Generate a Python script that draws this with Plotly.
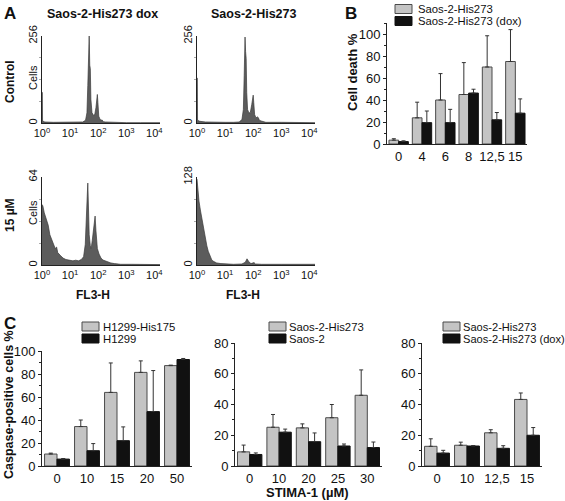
import plotly.graph_objects as go

W, H = 565, 501
FONT = "Arial, 'Liberation Sans', Helvetica, sans-serif"

# ---------------- Panel A: DNA content histograms (FL3-H, log decades) ----------------
tl_x = [0.0, 0.012, 0.02, 0.1, 0.4, 0.8, 1.2, 1.45, 1.55, 1.60, 1.63, 1.66, 1.68, 1.70, 1.72, 1.74,
        1.78, 1.84, 1.88, 1.92, 1.95, 1.97, 1.99, 2.02, 2.06, 2.10, 2.14, 2.18, 2.25, 2.5, 3.0, 3.5, 4.0, 4.2]
tl_y = [90, 90, 6, 3, 2, 2, 2, 3, 8, 30, 110, 200, 256, 170, 160, 70,
        30, 22, 26, 45, 70, 84, 60, 20, 12, 8, 9, 4, 3, 2, 1, 1, 1, 1]

tr_x = [0.0, 0.012, 0.02, 0.1, 0.3, 0.6, 1.0, 1.3, 1.5, 1.6, 1.65, 1.68, 1.71, 1.73, 1.75, 1.77,
        1.80, 1.85, 1.90, 1.95, 1.98, 2.00, 2.02, 2.05, 2.10, 2.15, 2.18, 2.22, 2.28, 2.35, 2.45, 3.0, 3.5, 4.0, 4.2]
tr_y = [132, 132, 8, 5, 3, 2, 2, 2, 3, 10, 40, 140, 253, 210, 190, 90,
        40, 29, 32, 55, 75, 82, 60, 25, 15, 18, 16, 8, 6, 5, 2, 2, 1, 1, 1]

bl_x = [0.0, 0.03, 0.08, 0.15, 0.22, 0.28, 0.36, 0.42, 0.47, 0.52, 0.56, 0.65, 0.75, 0.85, 0.95, 1.1,
        1.2, 1.3, 1.4, 1.48, 1.54, 1.58, 1.61, 1.63, 1.65, 1.68, 1.72, 1.75, 1.79, 1.84, 1.89, 1.92,
        1.97, 2.03, 2.1, 2.17, 2.3, 2.45, 2.58, 2.8, 3.2, 4.0, 4.2]
bl_y = [44, 43, 38, 33, 29, 22, 17.5, 14, 12, 13, 9, 7, 5, 4, 3.5, 3,
        3.5, 3, 4, 6, 15, 30, 50, 59.6, 40, 22, 14, 12, 18, 28, 35.6, 25,
        12, 8, 5, 3.6, 2.5, 1.5, 1, 0.5, 0.5, 0.3, 0.3]

br_x = [0.0, 0.03, 0.07, 0.12, 0.17, 0.23, 0.29, 0.35, 0.4, 0.47, 0.53, 0.6, 0.7, 0.85, 1.0, 1.3,
        1.6, 1.72, 1.78, 1.84, 1.92, 1.98, 2.03, 2.08, 2.3, 3.0, 4.0, 4.2]
br_y = [125, 110, 93, 80, 68, 52, 39, 28, 20, 12, 7, 5, 3, 2, 1.5, 1,
        1.5, 4, 9, 5, 2, 3, 3.5, 1.5, 1, 1, 1, 1]

hist_decades = [0, 1, 2, 3, 4]
hist_labels = ["10<sup>0</sup>", "10<sup>1</sup>", "10<sup>2</sup>", "10<sup>3</sup>", "10<sup>4</sup>"]

# ---------------- Panel B ----------------
b_cats = ["0", "4", "6", "8", "12,5", "15"]
b_his273 = [3.5, 23.8, 40, 45, 70, 75]
b_his273_err = [1.3, 14.2, 24, 29, 28.4, 29]
b_dox = [2.2, 19.4, 19.4, 46.3, 22, 28]
b_dox_err = [0.7, 10.6, 12.1, 3.5, 6.6, 13]
b_names = ["Saos-2-His273", "Saos-2-His273 (dox)"]

# ---------------- Panel C ----------------
c1_cats = ["0", "10", "15", "20", "50"]
c1_his175 = [10.4, 34.3, 64, 81.4, 87.3]
c1_his175_err = [0.8, 5.7, 25.6, 10, 0.4]
c1_h1299 = [6, 13.3, 22, 47.3, 92.6]
c1_h1299_err = [0.5, 6.2, 12, 35.7, 0.9]
c1_names = ["H1299-His175", "H1299"]

c2_cats = ["0", "10", "20", "25", "30"]
c2_his273 = [9.2, 25.2, 24.8, 31.4, 46]
c2_his273_err = [4.4, 8.3, 2.6, 8.6, 16.5]
c2_saos2 = [7.5, 22, 15.8, 13, 12]
c2_saos2_err = [1, 2, 5.7, 1.3, 3.6]
c2_names = ["Saos-2-His273", "Saos-2"]

c3_cats = ["0", "10", "12,5", "15"]
c3_his273 = [12.8, 13.5, 21.6, 43.3]
c3_his273_err = [4.9, 2, 2, 4.2]
c3_dox = [8.4, 13, 11.5, 20]
c3_dox_err = [1.8, 0.3, 1.7, 5]
c3_names = ["Saos-2-His273", "Saos-2-His273 (dox)"]


def dom_x(a, b):
    return [a / W, b / W]


def dom_y(top, bottom):
    return [1 - bottom / H, 1 - top / H]


fig = go.Figure()

GRAY = "#c4c4c4"
GRAY_LINE = "#4a4a4a"
BLACK = "#111111"

for hx, hy, xa, ya in [(tl_x, tl_y, "x", "y"), (tr_x, tr_y, "x2", "y2"),
                       (bl_x, bl_y, "x3", "y3"), (br_x, br_y, "x4", "y4")]:
    fig.add_trace(go.Scatter(x=hx, y=hy, mode="lines", fill="tozeroy",
                             fillcolor="#5c5c5c", line=dict(color="#3a3a3a", width=0.7),
                             xaxis=xa, yaxis=ya, showlegend=False, hoverinfo="skip"))


def add_pair(cats, v1, e1, v2, e2, names, xa, ya):
    for vals, errs, name, col, lcol in [(v1, e1, names[0], GRAY, GRAY_LINE), (v2, e2, names[1], BLACK, BLACK)]:
        fig.add_trace(go.Bar(
            x=cats, y=vals, name=name, xaxis=xa, yaxis=ya, showlegend=False,
            marker=dict(color=col, line=dict(color=lcol, width=1)),
            error_y=dict(type="data", array=errs, arrayminus=[0] * len(errs), symmetric=False,
                         color="#333333", thickness=1, width=2),
        ))


add_pair(b_cats, b_his273, b_his273_err, b_dox, b_dox_err, b_names, "x5", "y5")
add_pair(c1_cats, c1_his175, c1_his175_err, c1_h1299, c1_h1299_err, c1_names, "x6", "y6")
add_pair(c2_cats, c2_his273, c2_his273_err, c2_saos2, c2_saos2_err, c2_names, "x7", "y7")
add_pair(c3_cats, c3_his273, c3_his273_err, c3_dox, c3_dox_err, c3_names, "x8", "y8")

AX = "#222222"


def hist_x(domain, anchor):
    return dict(domain=domain, anchor=anchor, range=[0, 4.2], showline=True, linecolor=AX, linewidth=1,
                tickvals=hist_decades, ticktext=hist_labels, ticks="",
                tickfont=dict(size=11, color="#111111"), showgrid=False, zeroline=False)


def hist_y(domain, anchor, ymax):
    return dict(domain=domain, anchor=anchor, range=[0, ymax], showline=True, linecolor=AX, linewidth=1,
                tickvals=[0, ymax], ticktext=["0", str(ymax)], tickangle=-90, ticks="",
                tickfont=dict(size=11, color="#111111"), showgrid=False, zeroline=False,
                minor=dict(tickvals=[ymax / 4, ymax / 2, 3 * ymax / 4], ticks="outside", ticklen=2,
                           tickcolor="#aaaaaa"))


def bar_x(domain, anchor):
    return dict(domain=domain, anchor=anchor, type="category", showline=True, linecolor=AX, linewidth=1,
                ticks="", tickfont=dict(size=13, color="#111111"), showgrid=False, zeroline=False)


def bar_y(domain, anchor, ymax):
    return dict(domain=domain, anchor=anchor, range=[0, ymax], dtick=20, showline=True, linecolor=AX,
                linewidth=1, ticks="outside", ticklen=3, tickcolor=AX,
                tickfont=dict(size=13, color="#111111"),
                showgrid=False, zeroline=False,
                minor=dict(dtick=10, ticks="outside", ticklen=2, tickcolor=AX))


row_top = dom_y(36, 123)
row_bot = dom_y(177, 265)

fig.update_layout(
    width=W, height=501, autosize=False, template="none",
    margin=dict(l=0, r=0, t=0, b=0),
    paper_bgcolor="white", plot_bgcolor="white",
    font=dict(family=FONT, size=12, color="#111111"),
    barmode="group", bargap=0.17, bargroupgap=0, showlegend=False,
    xaxis=hist_x(dom_x(42, 160), "y"), yaxis=hist_y(row_top, "x", 256),
    xaxis2=hist_x(dom_x(197, 315), "y2"), yaxis2=hist_y(row_top, "x2", 256),
    xaxis3=hist_x(dom_x(42, 160), "y3"), yaxis3=hist_y(row_bot, "x3", 64),
    xaxis4=hist_x(dom_x(197, 315), "y4"), yaxis4=hist_y(row_bot, "x4", 128),
    xaxis5=bar_x(dom_x(387, 527), "y5"), yaxis5=bar_y(dom_y(23, 144), "x5", 110),
    xaxis6=bar_x(dom_x(42, 192), "y6"), yaxis6=bar_y(dom_y(351, 466), "x6", 100),
    xaxis7=bar_x(dom_x(235, 382), "y7"), yaxis7=bar_y(dom_y(343, 466), "x7", 80),
    xaxis8=bar_x(dom_x(422, 542), "y8"), yaxis8=bar_y(dom_y(343, 466), "x8", 80),
)


def ann(text, x, y, size=12, bold=True, angle=0, xanchor="center"):
    fig.add_annotation(text=text, x=x / W, y=1 - y / H, xref="paper", yref="paper",
                       showarrow=False, textangle=angle, xanchor=xanchor, yanchor="middle",
                       font=dict(size=size, weight="bold" if bold else "normal", family=FONT,
                                 color="#111111"))


# legends (drawn as key boxes + labels)
def legend(names, box_x, text_x, y1, y2, size=11.3):
    for name, col, lcol, yc in [(names[0], GRAY, GRAY_LINE, y1), (names[1], BLACK, BLACK, y2)]:
        fig.add_shape(type="rect", xref="paper", yref="paper",
                      x0=box_x / W, x1=(box_x + 17) / W, y0=1 - (yc + 4.5) / H, y1=1 - (yc - 4.5) / H,
                      fillcolor=col, line=dict(color=lcol, width=1))
        fig.add_annotation(text=name, x=text_x / W, y=1 - yc / H, xref="paper", yref="paper",
                           showarrow=False, xanchor="left", yanchor="middle", borderpad=0,
                           font=dict(size=size, family=FONT, color="#111111"))


legend(b_names, 395, 417, 9, 21)
legend(c1_names, 82, 102, 326.5, 338.5)
legend(c2_names, 269, 288, 326.5, 338.5)
legend(c3_names, 443, 462, 326.5, 338.5, size=11.1)

ann("A", 10, 13, size=17)
ann("B", 351, 13, size=17)
ann("C", 10, 323, size=17)
ann("Saos-2-His273 dox", 102, 14, size=12.5)
ann("Saos-2-His273", 254, 14, size=12.5)
ann("Control", 10, 82, angle=-90)
ann("15 \u00b5M", 10, 215, angle=-90)
ann("Cells", 33, 78, size=11, bold=False, angle=-90)
ann("Cells", 33, 213, size=11, bold=False, angle=-90)
ann("FL3-H", 93, 295)
ann("FL3-H", 243, 295)
ann("Cell death %", 352, 72, size=13, angle=-90)
ann("Caspase-positive cells %", 9, 405, size=12.5, angle=-90)
ann("STIMA-1 (\u00b5M)", 307, 492, size=13)

fig.write_html("out.html", include_plotlyjs=True, full_html=True,
               config={"displayModeBar": False, "staticPlot": True},
               post_script="document.body.style.margin='0px';")
